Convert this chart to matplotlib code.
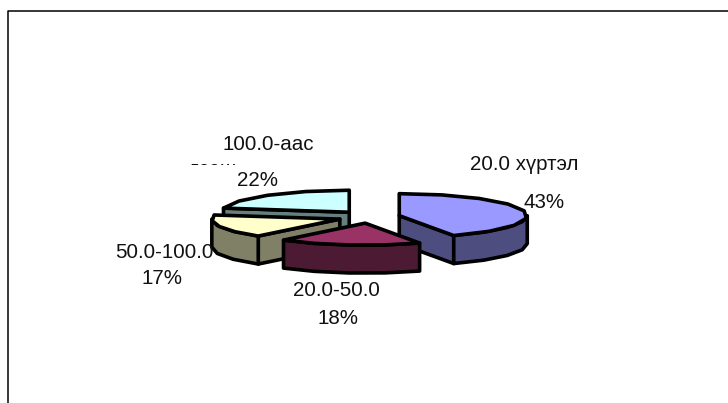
import numpy as np
import matplotlib
matplotlib.use("Agg")
import matplotlib.pyplot as plt
from matplotlib.patches import Polygon
from matplotlib.transforms import Bbox

categories = ["20.0 хүртэл", "20.0-50.0", "50.0-100.0", "100.0-аас"]
shares = [43, 18, 17, 22]
top_colors = ["#9999FF", "#993366", "#FFFFCC", "#CCFFFF"]
side_colors = ["#4D4D80", "#4D1A33", "#808066", "#668080"]
name_pos = [(524, 165), (336, 291), (164, 252), (268, 145)]
pct_pos = [(544, 202), (338, 318), (162, 279), (257, 181)]

W, H = 728, 403
CX, CY, RX, RY, DEPTH, EXPLODE = 369, 217, 128, 22, 28, 31
STEP = 20

plt.rcParams['font.family'] = ['Liberation Sans', 'DejaVu Sans']
fig = plt.figure(figsize=(W / 100, H / 100), dpi=100)
ax = fig.add_axes([0, 0, 1, 1])
ax.set_xlim(0, W)
ax.set_ylim(H, 0)
ax.axis("off")

# chart frame: only its top and left edges fall inside the picture
ax.plot([8, 8, W], [H, 10.5, 10.5], color="black", lw=1.1, solid_capstyle="butt")


def arc(apex, a, b):
    n = max(2, int(np.ceil((b - a) / STEP)) + 1)
    t = np.radians(np.linspace(a, b, n))
    return np.column_stack([apex[0] + RX * np.sin(t), apex[1] - RY * np.cos(t)])


edges = np.concatenate([[0], np.cumsum(shares)]) * 360 / sum(shares)
slices = []
for i in range(len(shares)):
    a, b = edges[i], edges[i + 1]
    mid = np.radians((a + b) / 2)
    apex = (CX + EXPLODE * np.sin(mid), CY - EXPLODE * 0.2 * np.cos(mid))
    slices.append((i, a, b, apex))

style = dict(edgecolor="black", lw=2.6, joinstyle="round")
for i, a, b, apex in [slices[k] for k in (3, 0, 2, 1)]:
    drop = np.array([0, DEPTH])
    faces = []
    if np.sin(np.radians(a)) < -1e-6:
        faces.append(arc(apex, a, a)[0])
    if np.sin(np.radians(b)) > 1e-6:
        faces.append(arc(apex, b, b)[0])
    for p in faces:
        q = np.array([apex, p, p + drop, np.array(apex) + drop])
        ax.add_patch(Polygon(q, closed=True, facecolor=side_colors[i], **style))
    lo, hi = max(a, 90), min(b, 270)
    if hi > lo:
        r = arc(apex, lo, hi)
        ax.add_patch(Polygon(np.vstack([r, (r + drop)[::-1]]), closed=True,
                             facecolor=side_colors[i], **style))
    ax.add_patch(Polygon(np.vstack([[apex], arc(apex, a, b)]), closed=True,
                         facecolor=top_colors[i], **style))

FS = 20.5 * 72 / 100
for name, share, (nx, ny), (px, py) in zip(categories, shares, name_pos, pct_pos):
    ax.text(nx, ny, name, ha="center", va="center", fontsize=FS, color="#111111")
    ax.text(px, py, f"{share}%", ha="center", va="center", fontsize=FS, color="#111111")

# second line of the last label, cut off by its box in the reference
t = ax.text(212, 175, "дээш", ha="center", va="baseline", fontsize=FS, color="#111111")
t.set_clip_box(Bbox([[180, H - 164.5], [240, H - 150]]))
t.set_clip_on(True)

fig.savefig("out.png", dpi=100, facecolor="white")
